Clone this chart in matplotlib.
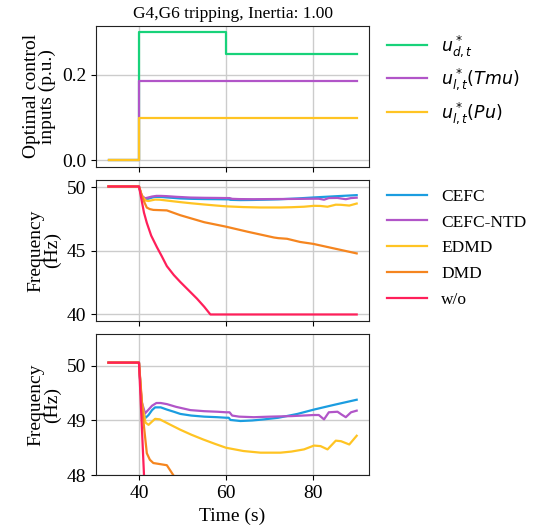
import matplotlib
matplotlib.use("Agg")
import matplotlib.pyplot as plt
import numpy as np

plt.rcParams['font.family'] = ['Liberation Serif', 'DejaVu Serif']
plt.rcParams['mathtext.fontset'] = 'dejavusans'

# top panel: optimal control inputs (step values)
t_u = [33, 40, 60, 90]
u_d = [0.0, 0.30, 0.25, 0.25]
u_tmu = [0.0, 0.185, 0.185, 0.185]
u_pu = [0.0, 0.10, 0.10, 0.10]

# frequency responses
t_cefc = [33, 40, 40.6, 41.4, 42.2, 43.0, 43.7, 45.0, 46.4, 48.0, 49.5, 52, 55, 58, 60, 60.6, 61.0, 63.3, 66, 68.7, 72, 76.4, 80.2, 85, 90]
f_cefc = [50.06, 50.06, 49.3, 49.04, 49.1, 49.19, 49.24, 49.24, 49.2, 49.16, 49.12, 49.09, 49.07, 49.06, 49.05, 49.05, 49.01, 48.99, 49.0, 49.02, 49.05, 49.12, 49.2, 49.29, 49.38]

t_ntd = [33, 40, 40.6, 41.4, 42.2, 43.0, 44.0, 45.0, 46.4, 48.5, 51.8, 55, 58, 60, 60.8, 61.4, 63, 66.4, 70, 75, 80.2, 81.3, 82.5, 83.6, 85.6, 86.5, 87.5, 88.7, 90]
f_ntd = [50.06, 50.06, 49.35, 49.13, 49.2, 49.27, 49.32, 49.32, 49.3, 49.25, 49.19, 49.17, 49.16, 49.15, 49.15, 49.09, 49.07, 49.06, 49.07, 49.08, 49.1, 49.1, 49.02, 49.15, 49.16, 49.11, 49.06, 49.15, 49.18]

t_edmd = [33, 40, 40.6, 41.5, 42.2, 43.0, 43.7, 44.8, 47, 49.5, 52, 54.8, 57.5, 60, 64, 67.9, 72.5, 75, 77.9, 80.2, 81.7, 83.3, 85.2, 86.4, 88.3, 90]
f_edmd = [50.06, 50.06, 49.35, 48.96, 48.92, 48.98, 49.03, 49.02, 48.93, 48.83, 48.74, 48.65, 48.57, 48.5, 48.44, 48.41, 48.41, 48.43, 48.47, 48.54, 48.53, 48.47, 48.63, 48.62, 48.56, 48.72]

t_dmd = [33, 40, 41.0, 41.8, 42.5, 43.3, 46.4, 49.5, 52, 55, 60, 65, 71, 72, 74, 77, 80, 82, 84, 86, 88, 90]
f_dmd = [50.06, 50.06, 49.0, 48.4, 48.28, 48.22, 48.18, 47.8, 47.55, 47.25, 46.9, 46.5, 46.05, 46.0, 45.95, 45.7, 45.55, 45.4, 45.25, 45.1, 44.95, 44.8]

t_wo = [33, 40, 41.15, 41.8, 42.8, 44.1, 45.2, 46.4, 48.0, 49.5, 51.4, 53.3, 55.0, 56.4, 60, 70, 80, 90]
f_wo = [50.06, 50.06, 48.0, 47.2, 46.2, 45.3, 44.6, 43.8, 43.1, 42.55, 41.9, 41.25, 40.6, 40.0, 40.0, 40.0, 40.0, 40.0]

c_green = '#18d27a'
c_purple = '#b155c8'
c_yellow = '#ffc423'
c_blue = '#1b9de0'
c_orange = '#f5851f'
c_red = '#ff1f5a'


def style(ax):
    ax.grid(True, color='#cccccc', lw=1.0)
    ax.set_axisbelow(True)
    ax.tick_params(labelsize=14)
    for s in ax.spines.values():
        s.set_color('#222222')


fig, axes = plt.subplots(3, 1, figsize=(5.46, 5.29), dpi=100, sharex=True)
fig.subplots_adjust(left=0.176, right=0.676, top=0.951, bottom=0.102, hspace=0.095)

ax = axes[0]
ax.plot(t_u, u_d, drawstyle='steps-post', color=c_green, lw=1.6, label=r'$u^*_{d,t}$')
ax.plot(t_u, u_tmu, drawstyle='steps-post', color=c_purple, lw=1.6, label=r'$u^*_{l,t}(Tmu)$')
ax.plot(t_u, u_pu, drawstyle='steps-post', color=c_yellow, lw=1.6, label=r'$u^*_{l,t}(Pu)$')
ax.set_yticks([0.0, 0.2])
ax.set_ylabel('Optimal control\ninputs (p.u.)', fontsize=14, linespacing=0.95)
ax.set_title('G4,G6 tripping, Inertia: 1.00', fontsize=12.5)
ax.legend(loc='upper left', bbox_to_anchor=(1.01, 1.06), frameon=False, fontsize=12.5,
          handlelength=2.3, labelspacing=0.45)
style(ax)


def freq(ax):
    ax.plot(t_cefc, f_cefc, color=c_blue, lw=1.6, label='CEFC')
    ax.plot(t_ntd, f_ntd, color=c_purple, lw=1.6, label='CEFC-NTD')
    ax.plot(t_edmd, f_edmd, color=c_yellow, lw=1.6, label='EDMD')
    ax.plot(t_dmd, f_dmd, color=c_orange, lw=1.6, label='DMD')
    ax.plot(t_wo, f_wo, color=c_red, lw=1.6, label='w/o')
    ax.set_ylabel('Frequency\n(Hz)', fontsize=14, linespacing=0.95)
    style(ax)


freq(axes[1])
axes[1].set_yticks([40, 45, 50])
axes[1].legend(loc='upper left', bbox_to_anchor=(1.01, 1.05), frameon=False, fontsize=12.5,
               handlelength=2.3, labelspacing=0.55)

freq(axes[2])
axes[2].set_ylim(48, 50.58)
axes[2].set_yticks([48, 49, 50])
axes[2].set_xlabel('Time (s)', fontsize=14)
axes[2].set_xticks([40, 60, 80])

fig.savefig('out.png', dpi=100)
